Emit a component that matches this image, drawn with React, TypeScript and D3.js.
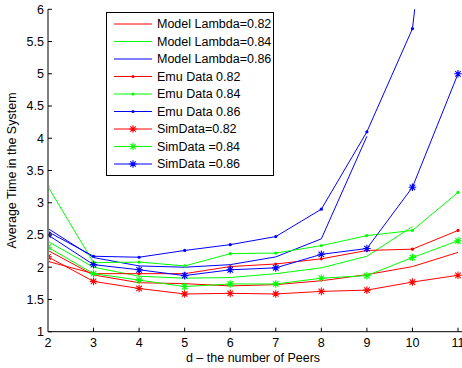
import React from "react";
import * as d3 from "d3";

// Number of peers on the x axis
const peers = [2, 3, 4, 5, 6, 7, 8, 9, 10, 11];

// Analytical model (curves stop where the model becomes unstable)
const modelL082 = [2.26, 1.88, 1.76, 1.745, 1.71, 1.73, 1.79, 1.885, 2.01, 2.23];
const modelL084 = [2.4, 2.0, 1.86, 1.83, 1.84, 1.9, 1.99, 2.17, 2.63];
const modelL086 = [2.6, 2.15, 2.02, 2.0, 2.04, 2.16, 2.44, 4.03];

// Emulation measurements
const emu082 = [2.09, 1.9, 1.9, 1.9, 2.01, 2.05, 2.13, 2.26, 2.28, 2.57];
const emu084 = [3.25, 2.07, 2.08, 2.02, 2.21, 2.22, 2.335, 2.49, 2.57, 3.16];
const emu086 = [2.55, 2.17, 2.155, 2.26, 2.35, 2.475, 2.9, 4.1, 5.7, 11.8];

// Simulation results
const sim082 = [2.16, 1.78, 1.67, 1.585, 1.595, 1.585, 1.625, 1.645, 1.77, 1.875];
const sim084 = [2.31, 1.9, 1.8, 1.7, 1.74, 1.74, 1.83, 1.87, 2.15, 2.41];
const sim086 = [2.5, 2.04, 1.96, 1.87, 1.96, 1.99, 2.2, 2.29, 3.24, 5.0];

const yTicks = [1, 1.5, 2, 2.5, 3, 3.5, 4, 4.5, 5, 5.5, 6];
const yTickLabels = ["1", "1.5", "2", "2.5", "3", "3.5", "4", "4.5", "5", "5.5", "6"];
const xTickLabels = ["2", "3", "4", "5", "6", "7", "8", "9", "10", "11"];

const legendLabels = [
  "Model Lambda=0.82",
  "Model Lambda=0.84",
  "Model Lambda=0.86",
  "Emu Data 0.82",
  "Emu Data 0.84",
  "Emu Data 0.86",
  "SimData=0.82",
  "SimData =0.84",
  "SimData =0.86",
];

const RED = "#ff0000";
const GREEN = "#00ff00";
const BLUE = "#0000ff";

type Marker = "none" | "dot" | "star";
interface Series {
  values: number[];
  color: string;
  marker: Marker;
}

const series: Series[] = [
  { values: modelL082, color: RED, marker: "none" },
  { values: modelL084, color: GREEN, marker: "none" },
  { values: modelL086, color: BLUE, marker: "none" },
  { values: emu082, color: RED, marker: "dot" },
  { values: emu084, color: GREEN, marker: "dot" },
  { values: emu086, color: BLUE, marker: "dot" },
  { values: sim082, color: RED, marker: "star" },
  { values: sim084, color: GREEN, marker: "star" },
  { values: sim086, color: BLUE, marker: "star" },
];

const W = 462;
const H = 368;
const FONT = "'Liberation Sans', Arial, Helvetica, sans-serif";
const FS = 12.5;

const plot = { left: 48, right: 458, top: 9.3, bottom: 331.7 };

const x = d3.scaleLinear().domain([2, 11]).range([plot.left, plot.right]);
const y = d3.scaleLinear().domain([1, 6]).range([plot.bottom, plot.top]);

function starPath(cx: number, cy: number, r: number): string {
  const d = r * 0.72;
  return (
    `M${cx - r},${cy}L${cx + r},${cy}` +
    `M${cx},${cy - r}L${cx},${cy + r}` +
    `M${cx - d},${cy - d}L${cx + d},${cy + d}` +
    `M${cx - d},${cy + d}L${cx + d},${cy - d}`
  );
}

function MarkerMark({ kind, cx, cy, color }: { kind: Marker; cx: number; cy: number; color: string }) {
  if (kind === "dot") return <circle cx={cx} cy={cy} r={1.6} fill={color} />;
  if (kind === "star")
    return <path d={starPath(cx, cy, 3.8)} stroke={color} strokeWidth={1.1} fill="none" />;
  return null;
}

export default function App() {
  const line = d3
    .line<number>()
    .x((_, i) => x(peers[i]))
    .y((v) => y(v));

  const legend = { left: 106.5, top: 12.5, right: 273.5, bottom: 175.5 };
  const rowY = (i: number) => 24 + i * 17.5;

  return (
    <svg
      width={W}
      height={H}
      style={{ position: "absolute", left: 0, top: 0, background: "#fff" }}
      fontFamily={FONT}
    >
      <defs>
        <clipPath id="plot-clip">
          <rect x={plot.left} y={plot.top} width={plot.right - plot.left + 10} height={plot.bottom - plot.top} />
        </clipPath>
      </defs>

      {/* data */}
      <g clipPath="url(#plot-clip)">
        {series.map((s, si) => (
          <g key={si}>
            <path d={line(s.values) || ""} fill="none" stroke={s.color} strokeWidth={1} />
            {s.values.map((v, i) => (
              <MarkerMark key={i} kind={s.marker} cx={x(peers[i])} cy={y(v)} color={s.color} />
            ))}
          </g>
        ))}
      </g>

      {/* x axis */}
      <line x1={plot.left} x2={W} y1={plot.bottom} y2={plot.bottom} stroke="#000" strokeWidth={1} />
      {peers.map((p, i) => (
        <g key={p}>
          <line x1={x(p)} x2={x(p)} y1={plot.bottom} y2={plot.bottom - 4} stroke="#000" strokeWidth={1} />
          <text x={x(p)} y={plot.bottom + 15} fontSize={FS} textAnchor="middle" fill="#000">
            {xTickLabels[i]}
          </text>
        </g>
      ))}
      <text
        x={(plot.left + plot.right) / 2}
        y={362}
        fontSize={FS}
        textAnchor="middle"
        fill="#000"
      >
        d – the number of Peers
      </text>

      {/* y axis */}
      <line x1={plot.left} x2={plot.left} y1={plot.top} y2={plot.bottom} stroke="#808080" strokeWidth={2} />
      {yTicks.map((t, i) => (
        <g key={t}>
          <line x1={plot.left} x2={plot.left + 4} y1={y(t)} y2={y(t)} stroke="#000" strokeWidth={1} />
          <text
            x={plot.left - 4}
            y={y(t)}
            dy="0.35em"
            fontSize={FS}
            textAnchor="end"
            fill="#000"
          >
            {yTickLabels[i]}
          </text>
        </g>
      ))}
      <text
        transform={`translate(16, ${(plot.top + plot.bottom) / 2}) rotate(-90)`}
        fontSize={FS}
        textAnchor="middle"
        fill="#000"
      >
        Average Time in the System
      </text>

      {/* legend */}
      <rect
        x={legend.left}
        y={legend.top}
        width={legend.right - legend.left}
        height={legend.bottom - legend.top}
        fill="#fff"
        stroke="#000"
        strokeWidth={1}
      />
      {series.map((s, i) => (
        <g key={i}>
          <line x1={114} x2={152} y1={rowY(i)} y2={rowY(i)} stroke={s.color} strokeWidth={1} />
          <MarkerMark kind={s.marker} cx={133} cy={rowY(i)} color={s.color} />
          <text x={157} y={rowY(i)} dy="0.35em" fontSize={FS} fill="#000">
            {legendLabels[i]}
          </text>
        </g>
      ))}
    </svg>
  );
}
